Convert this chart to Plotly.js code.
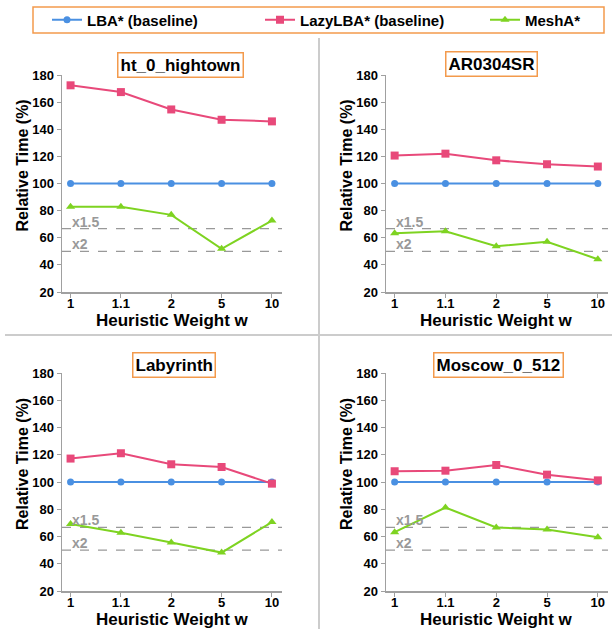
<!DOCTYPE html>
<html><head><meta charset="utf-8">
<script src="https://cdn.plot.ly/plotly-3.0.1.min.js"></script>
<style>html,body{margin:0;padding:0;background:#fff}</style>
</head><body><div id="chart" style="width:616px;height:629px"></div>
<script>
// ---- data ----
var weights = ['1', '1.1', '2', '5', '10'];
var datasets = ['ht_0_hightown', 'AR0304SR', 'Labyrinth', 'Moscow_0_512'];
var seriesNames = ['LBA* (baseline)', 'LazyLBA* (baseline)', 'MeshA*'];

var lba_ht  = [100, 100, 100, 100, 100];
var lazy_ht = [172.4, 167.4, 154.6, 147.0, 145.8];
var mesh_ht = [82.8, 82.9, 76.9, 51.8, 72.7];

var lba_ar  = [100, 100, 100, 100, 100];
var lazy_ar = [120.6, 122.0, 117.1, 114.2, 112.5];
var mesh_ar = [63.3, 64.8, 53.8, 57.0, 44.2];

var lba_lab  = [100, 100, 100, 100, 100];
var lazy_lab = [117.2, 121.1, 113.0, 111.0, 98.8];
var mesh_lab = [69.1, 62.7, 55.6, 48.2, 70.6];

var lba_mos  = [100, 100, 100, 100, 100];
var lazy_mos = [107.9, 108.3, 112.5, 105.4, 101.2];
var mesh_mos = [63.2, 81.3, 66.6, 65.2, 59.5];

var refLevels = [100 / 1.5, 50];
var refLabels = ['x1.5', 'x2'];
var yTickVals = [20, 40, 60, 80, 100, 120, 140, 160, 180];

// ---- styling ----
var W = 616, H = 629;
var colors = ['#4a90e2', '#e8497a', '#7ed321'];
var symbols = ['circle', 'square', 'triangle-up'];
var msizes = [7, 8, 8];
var orange = '#f39a4c';
var FONT = 'Liberation Sans, Arial, sans-serif';
function px(x) { return x / W; }
function py(y) { return 1 - y / H; }

var panels = [
  {x0: 62,  x1: 282, y0: 75,  y1: 292, tcx: 180.5, tcy: 65.5},
  {x0: 386, x1: 608, y0: 75,  y1: 292, tcx: 491.5, tcy: 63.5},
  {x0: 62,  x1: 282, y0: 373, y1: 591, tcx: 173.5, tcy: 365.5},
  {x0: 386, x1: 608, y0: 373, y1: 591, tcx: 498.5, tcy: 365.5}
];
var panelData = [
  [lba_ht, lazy_ht, mesh_ht],
  [lba_ar, lazy_ar, mesh_ar],
  [lba_lab, lazy_lab, mesh_lab],
  [lba_mos, lazy_mos, mesh_mos]
];
var legendIds = ['legend', 'legend2', 'legend3'];
var legendX = [47, 260, 485];

var traces = [];
var layout = {
  width: W, height: H,
  margin: {l: 0, r: 0, t: 0, b: 0, autoexpand: false},
  paper_bgcolor: '#fff', plot_bgcolor: '#fff',
  font: {family: FONT, color: '#000'},
  showlegend: true,
  shapes: [],
  annotations: []
};
legendIds.forEach(function (id, k) {
  layout[id] = {
    orientation: 'h', x: px(legendX[k]), xanchor: 'left', y: py(20), yanchor: 'middle',
    font: {family: FONT, size: 15, weight: 'bold', color: '#000'},
    bgcolor: 'rgba(0,0,0,0)', borderwidth: 0
  };
});

// legend frame and separators
layout.shapes.push({type: 'rect', xref: 'paper', yref: 'paper', x0: px(33), x1: px(604), y0: py(7), y1: py(33),
  line: {color: orange, width: 1.5}});
layout.shapes.push({type: 'line', xref: 'paper', yref: 'paper', x0: px(319), x1: px(319), y0: py(38), y1: py(629),
  line: {color: '#cccccc', width: 2}});
layout.shapes.push({type: 'line', xref: 'paper', yref: 'paper', x0: px(5), x1: px(612), y0: py(335), y1: py(335),
  line: {color: '#cccccc', width: 2}});

panels.forEach(function (p, i) {
  var n = i + 1;
  var xa = 'xaxis' + (n === 1 ? '' : n), ya = 'yaxis' + (n === 1 ? '' : n);
  var xr = 'x' + (n === 1 ? '' : n), yr = 'y' + (n === 1 ? '' : n);
  layout[xa] = {
    domain: [px(p.x0), px(p.x1)], anchor: yr, type: 'category',
    range: [-0.17, 4.2], showgrid: false, zeroline: false,
    showline: true, linecolor: '#a0a0a0', linewidth: 1.5,
    ticks: 'outside', ticklen: 4, tickcolor: '#a0a0a0', ticklabelstandoff: -5,
    tickfont: {family: FONT, size: 13, weight: 'bold', color: '#000'},
    categoryorder: 'array', categoryarray: weights
  };
  layout[ya] = {
    domain: [py(p.y1), py(p.y0)], anchor: xr,
    range: [20, 180], tickvals: yTickVals, showgrid: false, zeroline: false,
    showline: true, linecolor: '#a0a0a0', linewidth: 1.5,
    ticks: 'outside', ticklen: 4, tickcolor: '#a0a0a0',
    tickfont: {family: FONT, size: 13, weight: 'bold', color: '#000'}
  };
  // reference lines
  refLevels.forEach(function (lv, k) {
    layout.shapes.push({type: 'line', xref: xr + ' domain', yref: yr, x0: 0, x1: 1, y0: lv, y1: lv,
      line: {color: '#999999', width: 1.2, dash: 'dash'}, layer: 'below'});
    layout.annotations.push({xref: xr + ' domain', yref: yr, x: 0.035, y: lv, xanchor: 'left', yanchor: 'bottom',
      yshift: -3, showarrow: false, text: refLabels[k],
      font: {family: FONT, size: 14, weight: 'bold', color: '#999999'}});
  });
  // series
  panelData[i].forEach(function (vals, s) {
    traces.push({
      type: 'scatter', mode: 'lines+markers', x: weights, y: vals,
      xaxis: xr, yaxis: yr, name: seriesNames[s], showlegend: i === 0, legend: legendIds[s],
      line: {color: colors[s], width: 2},
      marker: {color: colors[s], symbol: symbols[s], size: msizes[s]}
    });
  });
  // panel title box
  layout.annotations.push({xref: 'paper', yref: 'paper', x: px(p.tcx), y: py(p.tcy), xanchor: 'center', yanchor: 'middle',
    showarrow: false, text: datasets[i], bordercolor: orange, borderwidth: 1.5, borderpad: 2, bgcolor: '#fff',
    font: {family: FONT, size: 17, weight: 'bold', color: '#000'}});
  // axis titles
  layout.annotations.push({xref: 'paper', yref: 'paper', x: px(i % 2 === 0 ? 22 : 346), y: py((p.y0 + p.y1) / 2 - 18),
    xanchor: 'center', yanchor: 'middle', textangle: -90, showarrow: false, text: 'Relative Time (%)',
    font: {family: 'Liberation Sans Narrow, ' + FONT, size: 16, weight: 'bold', color: '#000'}});
  layout.annotations.push({xref: 'paper', yref: 'paper', x: px((p.x0 + p.x1) / 2), y: py(p.y1 + 28),
    xanchor: 'center', yanchor: 'middle', showarrow: false, text: 'Heuristic Weight w',
    font: {family: FONT, size: 17, weight: 'bold', color: '#000'}});
});

Plotly.newPlot('chart', traces, layout, {displayModeBar: false, staticPlot: true});
</script></body></html>
